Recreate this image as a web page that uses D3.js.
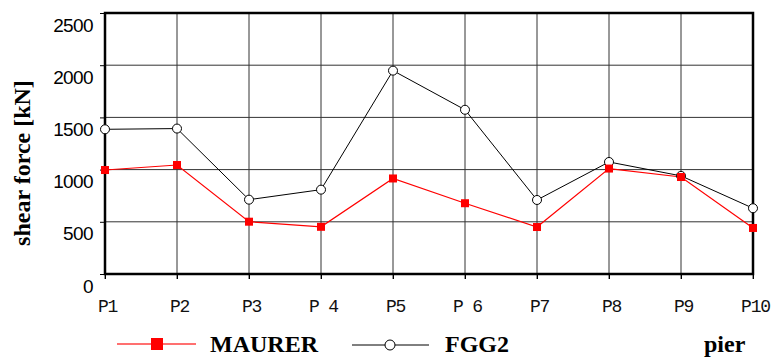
<!DOCTYPE html>
<html>
<head>
<meta charset="utf-8">
<script src="https://cdn.jsdelivr.net/npm/d3@7"></script>
<style>
  body { margin: 0; background: #fff; }
</style>
</head>
<body>
<script>
// shear force per pier
var piers = ["P1", "P2", "P3", "P 4", "P5", "P 6", "P7", "P8", "P9", "P10"];
var maurer = [996, 1044, 501, 452, 915, 678, 450, 1010, 929, 441];
var fgg2 = [1386, 1393, 712, 808, 1948, 1573, 709, 1073, 940, 630];
var yTicks = [0, 500, 1000, 1500, 2000, 2500];

var svg = d3.select("body").append("svg")
    .attr("width", 778)
    .attr("height", 358);

var x = d3.scalePoint().domain(piers).range([105, 753]);
var y = d3.scaleLinear().domain([0, 2500]).range([274, 13]);

// grid
svg.append("g").selectAll("line")
    .data(yTicks)
    .enter()
    .append("line")
    .attr("x1", 105).attr("x2", 753)
    .attr("y1", function(d) { return y(d); })
    .attr("y2", function(d) { return y(d); })
    .attr("stroke", "#333")
    .attr("stroke-width", 1);

svg.append("g").selectAll("line")
    .data(piers)
    .enter()
    .append("line")
    .attr("x1", function(d) { return x(d); })
    .attr("x2", function(d) { return x(d); })
    .attr("y1", 13).attr("y2", 279)
    .attr("stroke", "#333")
    .attr("stroke-width", 1);

// y axis
var yAxis = svg.append("g")
    .attr("transform", "translate(105,0)")
    .call(d3.axisLeft(y).tickValues(yTicks).tickFormat(d3.format("d")).tickSize(5).tickPadding(7));
yAxis.select(".domain").remove();
yAxis.selectAll(".tick line").attr("stroke", "#000");
yAxis.selectAll(".tick text")
    .attr("dy", 18)
    .attr("font-family", "Liberation Sans, Arial, sans-serif")
    .attr("font-size", 19)
    .attr("letter-spacing", -0.6)
    .attr("fill", "#000");

// x axis
var xAxis = svg.append("g")
    .attr("transform", "translate(0,274)")
    .call(d3.axisBottom(x).tickSize(5).tickPadding(20));
xAxis.select(".domain").remove();
xAxis.selectAll(".tick line").attr("stroke", "#000");
xAxis.selectAll(".tick text")
    .attr("dx", 2)
    .attr("font-family", "Liberation Mono, Courier New, monospace")
    .attr("font-size", 18)
    .attr("letter-spacing", -1.2)
    .attr("fill", "#111");

// frame
svg.append("rect")
    .attr("x", 105).attr("y", 13)
    .attr("width", 648).attr("height", 261)
    .attr("fill", "none")
    .attr("stroke", "#000")
    .attr("stroke-width", 2.5);

// series
var line = d3.line()
    .x(function(d, i) { return x(piers[i]); })
    .y(function(d) { return y(d); });

svg.append("path")
    .datum(fgg2)
    .attr("d", line)
    .attr("fill", "none")
    .attr("stroke", "#000")
    .attr("stroke-width", 1);

svg.append("path")
    .datum(maurer)
    .attr("d", line)
    .attr("fill", "none")
    .attr("stroke", "#ff0000")
    .attr("stroke-width", 1.2);

svg.append("g").selectAll("circle")
    .data(fgg2)
    .enter()
    .append("circle")
    .attr("cx", function(d, i) { return x(piers[i]); })
    .attr("cy", function(d) { return y(d); })
    .attr("r", 4.5)
    .attr("fill", "#fff")
    .attr("stroke", "#000")
    .attr("stroke-width", 1);

svg.append("g").selectAll("rect")
    .data(maurer)
    .enter()
    .append("rect")
    .attr("x", function(d, i) { return x(piers[i]) - 4; })
    .attr("y", function(d) { return y(d) - 4; })
    .attr("width", 8)
    .attr("height", 8)
    .attr("fill", "#ff0000");

// y label
svg.append("text")
    .attr("transform", "translate(30,163) rotate(-90)")
    .attr("text-anchor", "middle")
    .attr("font-family", "Liberation Serif, Times New Roman, serif")
    .attr("font-weight", "bold")
    .attr("font-size", 24)
    .text("shear force [kN]");

// legend
var lg = svg.append("g");
lg.append("line")
    .attr("x1", 117).attr("x2", 196).attr("y1", 344).attr("y2", 344)
    .attr("stroke", "#ff4040").attr("stroke-width", 1.5);
lg.append("rect")
    .attr("x", 151).attr("y", 338).attr("width", 12).attr("height", 12)
    .attr("fill", "#ff0000");
lg.append("text")
    .attr("x", 210).attr("y", 352)
    .attr("font-family", "Liberation Serif, Times New Roman, serif")
    .attr("font-weight", "bold")
    .attr("font-size", 24)
    .text("MAURER");

lg.append("line")
    .attr("x1", 352).attr("x2", 429).attr("y1", 345).attr("y2", 345)
    .attr("stroke", "#000").attr("stroke-width", 1);
lg.append("circle")
    .attr("cx", 390).attr("cy", 345).attr("r", 5)
    .attr("fill", "#fff").attr("stroke", "#000").attr("stroke-width", 1);
lg.append("text")
    .attr("x", 445).attr("y", 352)
    .attr("font-family", "Liberation Serif, Times New Roman, serif")
    .attr("font-weight", "bold")
    .attr("font-size", 24)
    .text("FGG2");

svg.append("text")
    .attr("x", 704).attr("y", 352)
    .attr("font-family", "Liberation Serif, Times New Roman, serif")
    .attr("font-weight", "bold")
    .attr("font-size", 24)
    .text("pier");
</script>
</body>
</html>
